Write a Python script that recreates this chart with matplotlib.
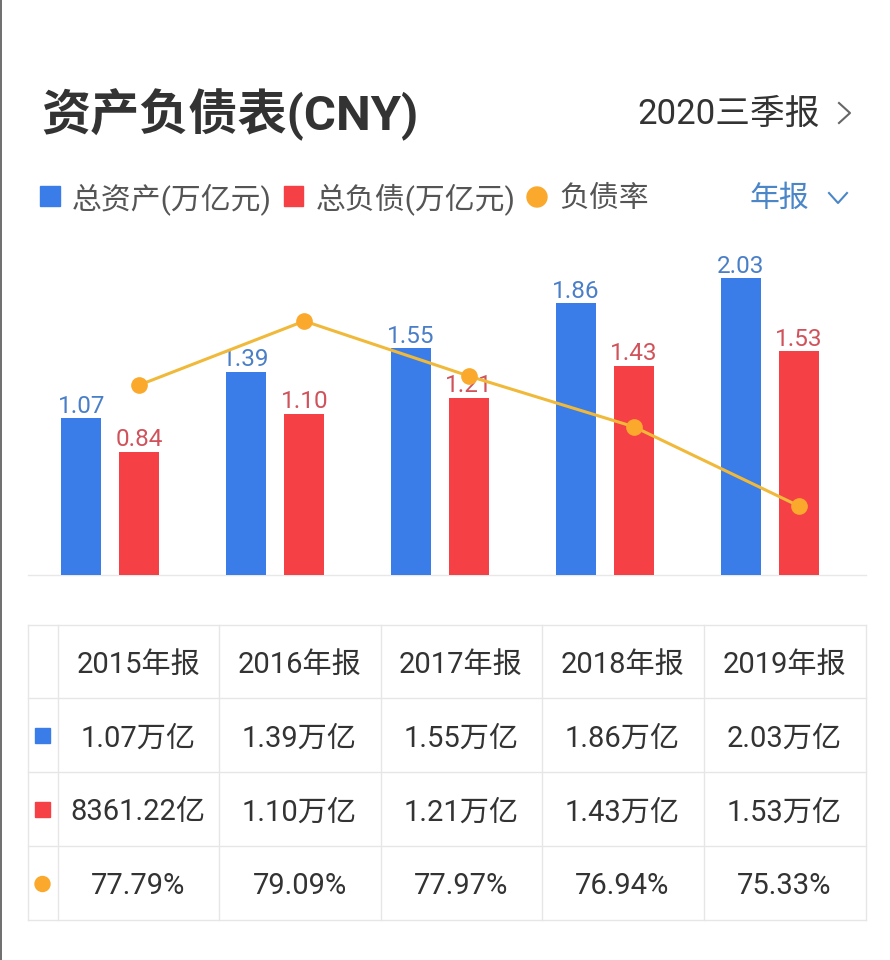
#!/usr/bin/env python3
"""Balance sheet card: bars for assets and liabilities, line for the debt ratio, table below."""
import matplotlib
matplotlib.use("Agg")
import matplotlib.pyplot as plt
from matplotlib.patches import Rectangle, Circle

plt.rcParams["font.family"] = ["Roboto", "Noto Sans CJK SC", "DejaVu Sans"]

periods = ["2015年报", "2016年报", "2017年报", "2018年报", "2019年报"]
total_assets = [1.07, 1.39, 1.55, 1.86, 2.03]
total_debt = [0.84, 1.10, 1.21, 1.43, 1.53]
debt_ratio = [77.79, 79.09, 77.97, 76.94, 75.33]
assets_text = ["1.07万亿", "1.39万亿", "1.55万亿", "1.86万亿", "2.03万亿"]
debt_text = ["8361.22亿", "1.10万亿", "1.21万亿", "1.43万亿", "1.53万亿"]
ratio_text = ["77.79%", "79.09%", "77.97%", "76.94%", "75.33%"]

BLUE = "#3A7DE8"
RED = "#F54045"
ORANGE = "#FBA92D"
W, H = 890, 960

fig = plt.figure(figsize=(W / 100, H / 100), dpi=100, facecolor="white")

# overlay in pixel coordinates for the card furniture
page = fig.add_axes([0, 0, 1, 1], zorder=0)
page.set_xlim(0, W)
page.set_ylim(H, 0)
page.axis("off")

# chart axes, 28..866 px wide, baseline at y=574.5
left, right, top, bottom = 28, 866, 240, 574.5
rect = [left / W, 1 - bottom / H, (right - left) / W, (bottom - top) / H]
ax = fig.add_axes(rect, zorder=1)
ax.patch.set_alpha(0)
step = 164.9
ax.set_xlim((left - 110.25) / step, (right - 110.25) / step)
ax.set_ylim(0, (bottom - top) / 146)
ax.axis("off")

ax2 = fig.add_axes(rect, zorder=2)
ax2.patch.set_alpha(0)
ax2.set_xlim(ax.get_xlim())
ax2.set_ylim(77.79 - (bottom - 385) / 49.2, 77.79 + (385 - top) / 49.2)
ax2.axis("off")

offset = 0.1765
width = 0.243
xs = range(len(periods))
ax.bar([i - offset for i in xs], total_assets, width, color=BLUE)
ax.bar([i + offset for i in xs], total_debt, width, color=RED)
for i in xs:
    ax.text(i - offset, total_assets[i] + 0.003, f"{total_assets[i]:.2f}", ha="center", va="bottom",
            fontsize=17.5, color="#4A7FC8")
    ax.text(i + offset, total_debt[i] + 0.003, f"{total_debt[i]:.2f}", ha="center", va="bottom",
            fontsize=17.5, color="#D0525A")
ax2.plot([i + offset for i in xs], debt_ratio, color="#F0B93A", linewidth=2.2,
         marker="o", markersize=11, markerfacecolor=ORANGE, markeredgecolor=ORANGE)

page.plot([left, right], [575, 575], color="#E8E8E8", linewidth=1)

# left edge of the screenshot
page.plot([0.5, 0.5], [0, H], color="#555555", linewidth=1.2)

# header
page.text(41, 115, "资产负债表(CNY)", fontsize=35.4, fontweight="bold", color="#333333", va="center", ha="left")
page.text(820, 114, "2020三季报", fontsize=25, color="#333333", va="center", ha="right")
page.plot([839, 850, 839], [103, 113, 123], color="#666666", linewidth=1.5)

# legend row
page.add_patch(Rectangle((40, 186), 20, 20, color=BLUE))
page.text(72, 199, "总资产(万亿元)", fontsize=21.5, color="#555555", va="center")
page.add_patch(Rectangle((284, 186), 19, 20, color=RED))
page.text(316, 199, "总负债(万亿元)", fontsize=21.5, color="#555555", va="center")
page.add_patch(Circle((537, 197), 10, color=ORANGE))
page.text(559, 199, "负债率", fontsize=21.5, color="#555555", va="center")
page.text(750, 199, "年报", fontsize=21.5, color="#4A86C8", va="center")
page.plot([829, 838, 847], [193, 203, 193], color="#4A86C8", linewidth=1.5)

# table
col_x = [28, 58, 219, 381, 542, 704, 866]
row_y = [625, 698, 772, 846, 920]
for x in col_x:
    page.plot([x, x], [row_y[0], row_y[-1]], color="#E6E6E6", linewidth=1)
for y in row_y:
    page.plot([col_x[0], col_x[-1]], [y, y], color="#E6E6E6", linewidth=1)

rows = [periods, assets_text, debt_text, ratio_text]
for r, cells in enumerate(rows):
    yc = (row_y[r] + row_y[r + 1]) / 2 + 3.5
    for c, label in enumerate(cells):
        xc = (col_x[c + 1] + col_x[c + 2]) / 2 - 0.5
        page.text(xc, yc, label, fontsize=21, color="#333333", ha="center", va="center")

page.add_patch(Rectangle((35, 728), 15, 15, color=BLUE))
page.add_patch(Rectangle((35, 802), 15, 15, color=RED))
page.add_patch(Circle((42.5, 884), 7.5, color=ORANGE))

fig.savefig("out.png", dpi=100)
plt.close(fig)
